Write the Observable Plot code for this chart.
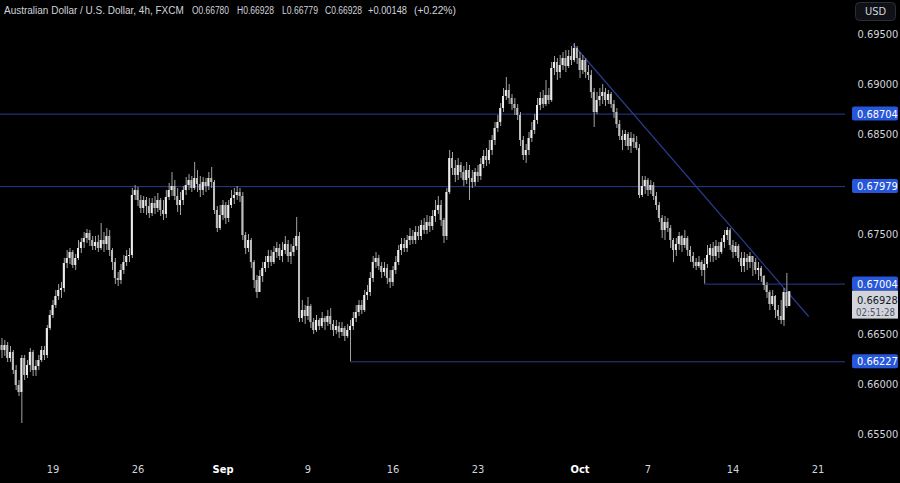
<!DOCTYPE html>
<html><head><meta charset="utf-8">
<script src="https://cdn.jsdelivr.net/npm/d3@7"></script>
<script src="https://cdn.jsdelivr.net/npm/@observablehq/plot@0.6"></script>
<style>
html,body{margin:0;padding:0;background:#000;}
#chart{width:900px;height:483px;position:relative;}
</style></head><body><div id="chart"></div>
<script>
// ---- data (AUD/USD, 4h bars, FXCM) ----
const firstOpen = 0.6639;
const closePrice = [
0.6634,0.6639,0.6626,0.6632,0.6614,0.6599,0.6592,0.6626,0.6609,0.6619,
0.6632,0.6614,0.6618,0.6624,0.6634,0.6629,0.6656,0.6669,0.6679,0.6688,
0.6694,0.6696,0.6721,0.6726,0.6732,0.6719,0.6726,0.6736,0.6742,0.6746,
0.6751,0.6744,0.6738,0.6742,0.6736,0.6744,0.6740,0.6748,0.6734,0.6722,
0.6706,0.6704,0.6714,0.6722,0.6728,0.6729,0.6789,0.6794,0.6784,0.6776,
0.6784,0.6778,0.6771,0.6781,0.6776,0.6784,0.6774,0.6770,0.6787,0.6794,
0.6798,0.6788,0.6779,0.6784,0.6794,0.6799,0.6804,0.6796,0.6806,0.6800,
0.6794,0.6802,0.6798,0.6806,0.6802,0.6774,0.6756,0.6769,0.6779,0.6766,
0.6779,0.6786,0.6789,0.6792,0.6788,0.6749,0.6736,0.6744,0.6722,0.6704,
0.6692,0.6708,0.6716,0.6722,0.6728,0.6722,0.6732,0.6736,0.6728,0.6734,
0.6740,0.6728,0.6732,0.6738,0.6748,0.6666,0.6674,0.6668,0.6678,0.6662,
0.6654,0.6664,0.6658,0.6666,0.6662,0.6668,0.6660,0.6654,0.6658,0.6652,
0.6656,0.6648,0.6654,0.6658,0.6666,0.6672,0.6679,0.6674,0.6689,0.6692,
0.6706,0.6722,0.6726,0.6718,0.6712,0.6716,0.6706,0.6702,0.6714,0.6722,
0.6734,0.6740,0.6736,0.6744,0.6748,0.6744,0.6752,0.6748,0.6759,0.6754,
0.6762,0.6758,0.6768,0.6774,0.6779,0.6764,0.6748,0.6792,0.6826,0.6816,
0.6809,0.6819,0.6812,0.6804,0.6814,0.6806,0.6802,0.6812,0.6808,0.6820,
0.6828,0.6824,0.6834,0.6844,0.6856,0.6862,0.6876,0.6888,0.6894,0.6886,
0.6880,0.6876,0.6869,0.6844,0.6829,0.6834,0.6846,0.6854,0.6864,0.6879,
0.6886,0.6880,0.6889,0.6884,0.6916,0.6922,0.6912,0.6919,0.6926,0.6918,
0.6928,0.6924,0.6936,0.6926,0.6914,0.6924,0.6912,0.6909,0.6892,0.6872,
0.6884,0.6888,0.6892,0.6884,0.6890,0.6880,0.6872,0.6860,0.6848,0.6844,
0.6850,0.6838,0.6846,0.6842,0.6836,0.6789,0.6798,0.6804,0.6794,0.6799,
0.6788,0.6779,0.6766,0.6754,0.6762,0.6756,0.6744,0.6734,0.6740,0.6748,
0.6739,0.6746,0.6734,0.6728,0.6722,0.6718,0.6722,0.6714,0.6720,0.6729,
0.6736,0.6728,0.6738,0.6732,0.6742,0.6749,0.6754,0.6739,0.6732,0.6738,
0.6726,0.6718,0.6726,0.6722,0.6728,0.6722,0.6714,0.6716,0.6708,0.6699,
0.6692,0.6680,0.6688,0.6674,0.6668,0.6664,0.6692,0.6678,0.66928
];
const highPrice = [
0.6646,0.6644,0.6642,0.6638,0.6634,0.6619,0.6604,0.6629,0.6629,0.6624,
0.6636,0.6634,0.6624,0.6629,0.6638,0.6638,0.6659,0.6674,0.6684,0.6694,
0.6700,0.6702,0.6726,0.6734,0.6736,0.6734,0.6730,0.6744,0.6746,0.6752,
0.6755,0.6754,0.6748,0.6748,0.6749,0.6761,0.6752,0.6756,0.6754,0.6736,
0.6726,0.6712,0.6720,0.6729,0.6734,0.6736,0.6796,0.6799,0.6797,0.6789,
0.6788,0.6787,0.6786,0.6786,0.6788,0.6791,0.6786,0.6784,0.6794,0.6801,
0.6812,0.6804,0.6796,0.6792,0.6798,0.6807,0.6810,0.6808,0.6822,0.6814,
0.6808,0.6807,0.6806,0.6812,0.6817,0.6804,0.6778,0.6779,0.6784,0.6782,
0.6784,0.6794,0.6796,0.6798,0.6796,0.6792,0.6752,0.6750,0.6746,0.6724,
0.6709,0.6714,0.6722,0.6728,0.6734,0.6734,0.6738,0.6742,0.6740,0.6742,
0.6748,0.6744,0.6740,0.6746,0.6767,0.6752,0.6684,0.6679,0.6687,0.6680,
0.6666,0.6669,0.6666,0.6672,0.6668,0.6674,0.6676,0.6664,0.6664,0.6662,
0.6662,0.6658,0.6660,0.6664,0.6672,0.6679,0.6684,0.6684,0.6694,0.6699,
0.6712,0.6728,0.6732,0.6729,0.6722,0.6722,0.6720,0.6714,0.6718,0.6728,
0.6739,0.6746,0.6746,0.6749,0.6756,0.6754,0.6758,0.6758,0.6764,0.6766,
0.6769,0.6768,0.6774,0.6784,0.6788,0.6784,0.6766,0.6796,0.6834,0.6832,
0.6824,0.6826,0.6822,0.6818,0.6822,0.6819,0.6814,0.6816,0.6819,0.6826,
0.6834,0.6836,0.6844,0.6849,0.6862,0.6869,0.6881,0.6896,0.6907,0.6900,
0.6890,0.6886,0.6880,0.6872,0.6848,0.6840,0.6852,0.6862,0.6870,0.6886,
0.6892,0.6894,0.6904,0.6896,0.6922,0.6928,0.6926,0.6929,0.6932,0.6934,
0.6934,0.6938,0.6941,0.6938,0.6932,0.6929,0.6926,0.6919,0.6914,0.6896,
0.6892,0.6896,0.6900,0.6896,0.6894,0.6892,0.6884,0.6876,0.6864,0.6854,
0.6854,0.6852,0.6852,0.6850,0.6848,0.6840,0.6808,0.6808,0.6806,0.6804,
0.6802,0.6792,0.6782,0.6769,0.6768,0.6766,0.6759,0.6746,0.6746,0.6752,
0.6749,0.6754,0.6748,0.6738,0.6732,0.6726,0.6728,0.6724,0.6726,0.6739,
0.6740,0.6742,0.6744,0.6742,0.6746,0.6754,0.6757,0.6756,0.6744,0.6742,
0.6740,0.6732,0.6732,0.6730,0.6732,0.6728,0.6726,0.6722,0.6718,0.6709,
0.6702,0.6694,0.6694,0.6689,0.6679,0.6684,0.6696,0.6711,0.66928
];
const lowPrice = [
0.6626,0.6628,0.6622,0.6622,0.6610,0.6594,0.6588,0.6561,0.6604,0.6606,
0.6612,0.6608,0.6608,0.6614,0.6622,0.6624,0.6626,0.6654,0.6666,0.6676,
0.6684,0.6686,0.6692,0.6716,0.6720,0.6716,0.6714,0.6724,0.6731,0.6736,
0.6741,0.6738,0.6734,0.6734,0.6732,0.6734,0.6732,0.6734,0.6728,0.6714,
0.6700,0.6698,0.6700,0.6710,0.6718,0.6722,0.6726,0.6784,0.6778,0.6771,
0.6771,0.6769,0.6766,0.6768,0.6770,0.6772,0.6768,0.6764,0.6766,0.6784,
0.6788,0.6784,0.6772,0.6769,0.6779,0.6789,0.6794,0.6792,0.6794,0.6792,
0.6787,0.6789,0.6792,0.6794,0.6796,0.6770,0.6752,0.6754,0.6764,0.6760,
0.6762,0.6776,0.6780,0.6784,0.6782,0.6744,0.6730,0.6732,0.6716,0.6696,
0.6686,0.6692,0.6702,0.6712,0.6716,0.6718,0.6720,0.6726,0.6724,0.6722,
0.6730,0.6722,0.6720,0.6728,0.6734,0.6662,0.6662,0.6660,0.6664,0.6656,
0.6650,0.6652,0.6654,0.6656,0.6654,0.6658,0.6654,0.6648,0.6650,0.6646,
0.6648,0.6643,0.6646,0.66227,0.6654,0.6662,0.6668,0.6670,0.6672,0.6684,
0.6688,0.6702,0.6716,0.6714,0.6706,0.6708,0.6700,0.6696,0.6698,0.6710,
0.6719,0.6729,0.6732,0.6732,0.6739,0.6740,0.6740,0.6744,0.6744,0.6750,
0.6750,0.6752,0.6754,0.6762,0.6770,0.6758,0.6741,0.6744,0.6790,0.6809,
0.6802,0.6804,0.6806,0.6798,0.6800,0.6784,0.6796,0.6798,0.6802,0.6804,
0.6816,0.6818,0.6820,0.6829,0.6839,0.6852,0.6858,0.6872,0.6884,0.6880,
0.6874,0.6869,0.6864,0.6838,0.6824,0.6821,0.6829,0.6842,0.6850,0.6860,
0.6874,0.6876,0.6878,0.6880,0.6882,0.6909,0.6904,0.6906,0.6914,0.6912,
0.6916,0.6919,0.6922,0.6920,0.6906,0.6910,0.6906,0.6904,0.6886,0.6857,
0.6870,0.6878,0.6880,0.6878,0.6880,0.6876,0.6866,0.6856,0.6844,0.6834,
0.6838,0.6834,0.6831,0.6836,0.6834,0.6786,0.6787,0.6790,0.6788,0.6790,
0.6784,0.6774,0.6762,0.6746,0.6744,0.6752,0.6736,0.6722,0.6728,0.6734,
0.6732,0.6736,0.6728,0.6722,0.6716,0.6714,0.6716,0.6708,0.67004,0.6716,
0.6722,0.6722,0.6724,0.6726,0.6730,0.6736,0.6744,0.6734,0.6726,0.6728,
0.6722,0.6712,0.6712,0.6714,0.6716,0.6708,0.6710,0.6704,0.6702,0.6694,
0.6686,0.6674,0.6678,0.6666,0.6664,0.6660,0.6658,0.6676,0.66779
];
// horizontal levels drawn across the whole chart
const fullLevels = [0.68704, 0.67979];
// levels starting at a given bar
const partialLevels = [
  {price: 0.67004, fromBar: 248},
  {price: 0.66227, fromBar: 123}
];
// falling trend line (bar index, price)
const trendLine = [{bar1: 201.6, p1: 0.6940, bar2: 284.7, p2: 0.6668}];
// date tick labels (bar index of the day start)
const xTickBars   = [18, 48, 78, 108, 138, 168, 204, 228, 258, 288];
const xTickLabels = ["19", "26", "Sep", "9", "16", "23", "Oct", "7", "14", "21"];
const monthLabels = ["Sep", "Oct"];
const yTicks = [0.655, 0.66, 0.665, 0.675, 0.685, 0.69, 0.695];
const badgeLevels = [0.68704, 0.67979, 0.67004, 0.66227];
const lastPrice = 0.66928;
const countdown = "02:51:28";
const titleParts = ["Australian Dollar / U.S. Dollar, 4h, FXCM", "O0.66780", "H0.66928", "L0.66779", "C0.66928", "+0.00148", "(+0.22%)"];

// ---- build ----
const bars = closePrice.map((c, i) => ({
  i, open: i === 0 ? firstOpen : closePrice[i - 1], close: c, high: highPrice[i], low: lowPrice[i]
}));
const upBars = bars.filter(d => d.close >= d.open);
const downBars = bars.filter(d => d.close < d.open);
const X_DOMAIN = [-0.53, 297.7];
const labelOf = new Map(xTickBars.map((b, k) => [b, xTickLabels[k]]));
const monthTicks = xTickBars.filter(b => monthLabels.includes(labelOf.get(b)));
const dayTicks = xTickBars.filter(b => !monthLabels.includes(labelOf.get(b)));
const lineColor = "#2b3b8f";
const FONT = "'Liberation Sans Narrow', 'DejaVu Sans Condensed', 'Liberation Sans', sans-serif";
const TITLE_FONT = "'Liberation Sans', Arial, sans-serif";

const chart = Plot.plot({
  width: 900, height: 483,
  marginLeft: 0, marginRight: 55, marginTop: 0, marginBottom: 30,
  style: {background: "#000", fontFamily: FONT, fontSize: "11px", color: "#d1d4dc"},
  x: {type: "linear", domain: X_DOMAIN},
  y: {domain: [0.6531, 0.6984]},
  marks: [
    Plot.ruleY(fullLevels, {stroke: lineColor, strokeWidth: 1}),
    Plot.ruleY(partialLevels, {y: "price", x1: "fromBar", x2: () => X_DOMAIN[1], stroke: lineColor, strokeWidth: 1}),
    Plot.link(trendLine, {x1: "bar1", y1: "p1", x2: "bar2", y2: "p2", stroke: lineColor, strokeWidth: 1.2}),
    Plot.ruleX(bars, {x: "i", y1: "low", y2: "high", stroke: "#a3a3a3", strokeWidth: 1}),
    Plot.rect(upBars, {x1: d => d.i - 0.36, x2: d => d.i + 0.36, y1: "open", y2: "close", fill: "#ececec"}),
    Plot.rect(downBars, {x1: d => d.i - 0.36, x2: d => d.i + 0.36, y1: "open", y2: "close", fill: "#bdbdbd"}),
    Plot.axisX(dayTicks, {tickFormat: d => labelOf.get(d), tickSize: 0, tickPadding: 12, fill: "#d1d4dc", fontSize: 11}),
    Plot.axisX(monthTicks, {tickFormat: d => labelOf.get(d), tickSize: 0, tickPadding: 12, fill: "#ffffff", fontWeight: "bold", fontSize: 11}),
    Plot.axisY(yTicks, {anchor: "right", tickFormat: d => d.toFixed(5), tickSize: 0, tickPadding: 12, fill: "#d1d4dc", fontSize: 11, label: null})
  ]
});

document.getElementById("chart").appendChild(chart);

const svg = d3.select(chart);
const ys = chart.scale("y");
const g = svg.append("g").attr("font-family", FONT).attr("font-size", 11).attr("text-anchor", "start");

// fit a text node into a slot of given left edge and width
function fitText(sel, left, width, cy) {
  const len = sel.node().getComputedTextLength();
  const s = len > 0 ? Math.min(1.3, width / len) : 1;
  sel.attr("x", 0).attr("y", 0).attr("transform", `translate(${left},${cy}) scale(${s.toFixed(4)},1)`);
}

badgeLevels.forEach(v => {
  const py = ys.apply(v);
  g.append("rect").attr("x", 852).attr("y", py - 7).attr("width", 46).attr("height", 14).attr("rx", 2).attr("fill", "#2656d9");
  g.append("text").attr("x", 857).attr("y", py).attr("dy", "0.36em").attr("fill", "#ffffff").text(v.toFixed(5));
});
// current price badge placed under the 0.67004 badge
const badgeTop = ys.apply(0.67004) + 7;
g.append("rect").attr("x", 852).attr("y", badgeTop).attr("width", 46).attr("height", 28).attr("fill", "#d1d4dc");
g.append("text").attr("x", 857).attr("y", badgeTop + 9).attr("dy", "0.36em").attr("fill", "#131722").text(lastPrice.toFixed(5));
const cd = g.append("text").attr("dy", "0.36em").attr("fill", "#50535e").text(countdown);
fitText(cd, 856, 39, badgeTop + 21);

// currency box
g.append("rect").attr("x", 855.5).attr("y", 2.5).attr("width", 40).attr("height", 18).attr("rx", 4).attr("fill", "#0f1116").attr("stroke", "#2a2e39");
g.append("text").attr("x", 875.5).attr("y", 11.5).attr("dy", "0.36em").attr("text-anchor", "middle").attr("fill", "#d1d4dc").text("USD");

// title: each part fitted to its place in the header
const titleSlots = [[4, 180], [192, 37], [237, 37], [282, 36], [325, 37], [368, 39], [414, 42]];
titleParts.forEach((t, k) => {
  const [tx, tw] = titleSlots[k];
  const node = g.append("text").attr("dy", "0.36em").attr("fill", "#d1d4dc")
    .attr("font-family", TITLE_FONT).attr("font-size", 11).text(t);
  fitText(node, tx, tw, 10);
});
</script>
</body></html>
